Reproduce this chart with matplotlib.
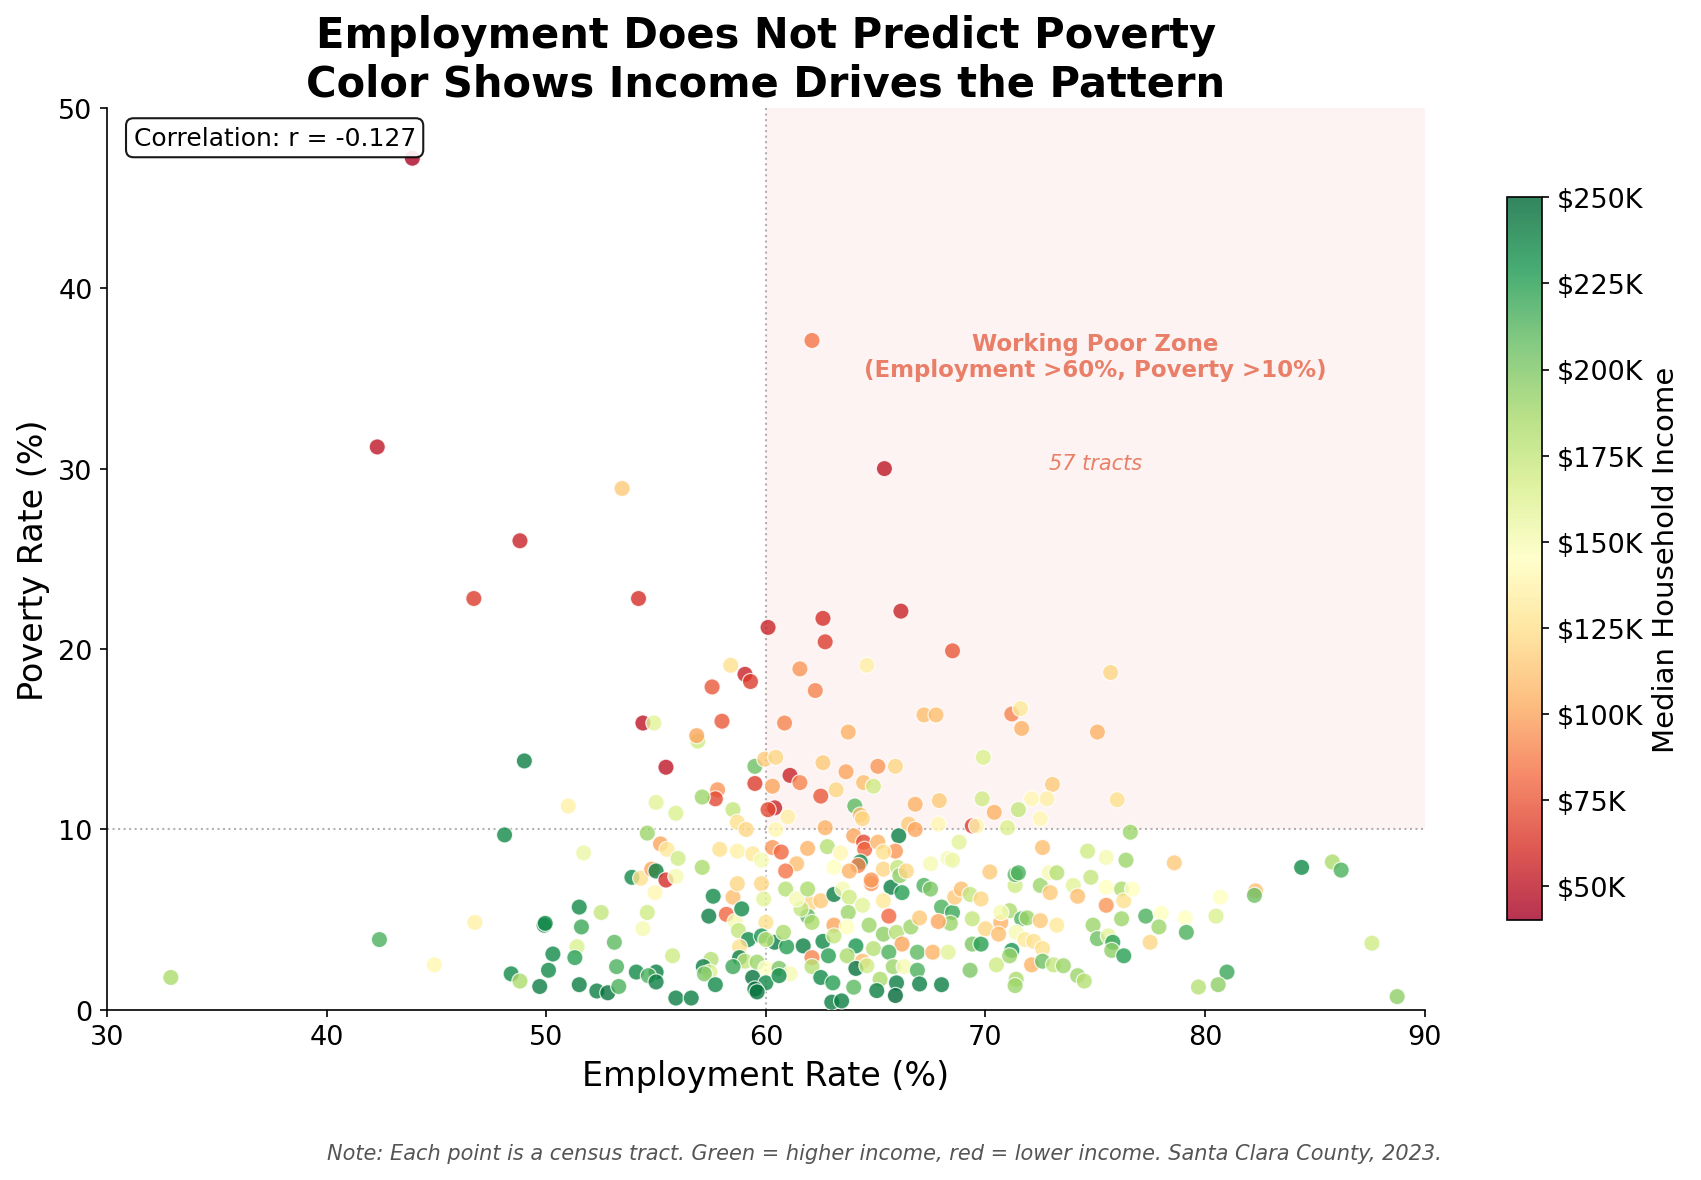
import numpy as np
import matplotlib
matplotlib.use("Agg")
from matplotlib import pyplot as plt
from matplotlib.ticker import FuncFormatter

# employment rate (%), poverty rate (%), median household income ($K) per tract
emp = [43.9, 42.3, 48.8, 46.7, 53.45, 54.2, 62.1, 65.4, 32.9, 44.9, 42.4, 48.4, 48.8, 85.8, 86.2,
       49.0, 55.45, 56.9, 57.8, 57.7, 57.1, 55.0, 55.9, 51.0, 48.1,
       58.5, 58.7, 54.6, 55.2, 55.5, 56.0, 57.9, 58.7, 57.1, 51.7,
       53.9, 54.3, 54.8, 55.0, 55.45, 55.9, 54.95, 57.6, 58.5, 58.7,
       51.5, 52.5, 51.6, 49.9, 49.95, 46.75, 54.6, 54.4, 57.4, 58.2, 58.6,
       58.9, 58.75, 59.8, 59.9, 60.0, 60.9, 59.2, 59.8, 60.4, 60.0,
       60.95, 58.8, 58.8, 59.05, 58.5, 59.6, 60.0, 60.6, 61.1, 59.4,
       60.0, 59.5, 59.6, 60.6, 53.1, 51.4, 50.3, 51.3, 53.2, 50.1,
       55.75, 54.1, 55.0, 54.65, 55.0, 57.5, 57.15, 57.45, 57.2, 57.7,
       51.5, 52.3, 52.8, 53.3, 55.9, 56.6, 49.7, 60.8, 61.7, 62.0,
       62.5, 61.9, 61.6, 62.1, 61.4, 62.1, 62.6, 62.85, 62.1, 62.5,
       63.05, 63.0, 63.1, 63.1,
       63.5, 63.8, 64.8, 65.7, 66.2, 67.2, 67.5, 64.4, 65.35, 63.75,
       65.6, 63.7, 63.1, 64.7, 65.35, 65.95, 66.6, 67.0, 66.2, 64.1,
       64.9, 65.6, 66.9, 67.6, 68.3, 63.7, 64.4, 64.1, 64.6, 65.8,
       66.3, 66.9, 64.0, 65.2, 65.95, 65.05, 65.9, 67.0, 68.0, 63.45,
       68.0, 68.5, 68.4, 67.85, 68.6, 68.9, 69.3, 69.8, 69.4, 69.4,
       69.8, 69.3, 70.0, 70.7, 70.6, 70.5, 71.2, 71.1, 71.1, 71.65,
       71.9, 71.4, 71.8, 72.2, 72.5, 73.25, 72.6, 72.1, 72.6, 73.1,
       73.55, 71.4, 71.35, 71.35, 72.5, 72.95, 74.0, 74.2, 75.5, 76.2,
       75.5, 76.3, 76.2, 74.9, 75.1, 75.6, 75.8, 75.75, 76.3, 74.2,
       74.5,
       76.7, 77.3, 78.0, 77.9, 77.5, 79.1, 79.15, 80.7, 80.5, 81.0,
       80.6, 79.7, 82.3, 82.25, 87.6, 88.75,
       73.05, 72.8, 72.1, 71.5, 72.5, 71.0, 76.0, 76.6, 72.6, 74.65,
       75.5, 76.4, 78.6, 84.4, 71.35, 71.5, 72.9, 73.25, 74.8,
       59.5, 59.95, 60.45, 62.6, 63.65, 65.1, 65.9, 69.9, 61.1, 61.55,
       59.5, 60.3, 63.2, 64.45, 64.9, 62.5, 60.4, 60.1, 61.0, 64.05,
       64.3, 64.4, 66.8, 67.9, 69.85, 70.4, 67.85, 66.5, 66.8, 69.4,
       69.6, 62.7, 60.45, 59.1, 66.05, 64.0, 64.45, 64.5, 65.1, 65.9,
       65.35, 68.8, 62.8, 63.4, 61.9, 60.3, 60.7, 61.4, 60.9, 59.4,
       59.8, 63.1, 64.3, 64.2, 63.8, 65.35, 66.0, 66.1, 66.4, 64.8,
       67.5, 68.3, 68.5, 70.2, 61.9, 70.7,
       60.1, 58.4, 59.05, 59.3, 57.55, 54.4, 54.9, 58.0, 56.85, 60.85,
       61.55, 62.6, 66.15, 62.7, 68.5, 64.6, 62.25, 67.2, 67.75, 71.2,
       71.6, 71.65, 63.75, 75.7, 75.1]

pov = [47.2, 31.2, 26.0, 22.8, 28.9, 22.8, 37.1, 30.0, 1.8, 2.5, 3.9, 2.0, 1.6, 8.2, 7.75,
       13.8, 13.45, 14.9, 12.2, 11.7, 11.8, 11.5, 10.9, 11.3, 9.7,
       11.1, 10.4, 9.8, 9.2, 8.9, 8.4, 8.9, 8.8, 7.9, 8.7,
       7.35, 7.3, 7.8, 7.7, 7.2, 7.4, 6.5, 6.3, 6.25, 7.0,
       5.7, 5.4, 4.6, 4.7, 4.8, 4.85, 5.4, 4.5, 5.2, 5.3, 4.9,
       5.6, 4.4, 7.0, 6.15, 4.85, 6.7, 3.9, 4.1, 3.75, 3.9,
       3.5, 3.5, 2.9, 2.7, 2.4, 2.65, 2.3, 2.3, 2.0, 1.8,
       1.5, 1.16, 1.0, 1.9, 3.75, 3.5, 3.1, 2.9, 2.4, 2.2,
       3.0, 2.1, 2.1, 1.9, 1.55, 2.8, 2.4, 2.1, 2.0, 1.4,
       1.4, 1.05, 0.95, 1.3, 0.66, 0.66, 1.3, 4.3, 3.55, 5.9,
       6.05, 5.2, 5.6, 4.85, 6.15, 2.9, 3.8, 3.0, 2.4, 1.8,
       1.5, 0.43, 6.4, 4.7,
       6.7, 6.25, 7.0, 6.8, 6.5, 6.9, 6.7, 5.8, 6.05, 5.4,
       5.2, 4.6, 4.1, 4.7, 4.2, 4.3, 4.6, 5.1, 3.65, 3.55,
       3.4, 3.2, 3.2, 3.2, 3.2, 3.0, 2.7, 2.3, 2.45, 2.4,
       2.4, 2.2, 1.26, 1.7, 1.5, 1.07, 0.8, 1.44, 1.4, 0.5,
       5.7, 5.4, 4.8, 4.9, 6.25, 6.7, 6.4, 6.15, 5.05, 3.65,
       3.65, 2.2, 4.5, 4.85, 4.2, 2.5, 3.3, 3.0, 5.5, 5.05,
       5.1, 4.3, 3.9, 3.8, 4.95, 4.7, 3.4, 2.5, 2.7, 2.5,
       2.45, 1.7, 1.35, 6.9, 6.9, 6.5, 6.9, 6.3, 6.8, 6.7,
       5.8, 6.05, 5.05, 4.7, 3.95, 4.1, 3.75, 3.3, 3.0, 1.9,
       1.6,
       6.7, 5.2, 5.35, 4.6, 3.75, 5.1, 4.3, 6.25, 5.2, 2.1,
       1.4, 1.27, 6.6, 6.35, 3.7, 0.74,
       12.5, 11.7, 11.7, 11.1, 10.6, 10.1, 11.65, 9.85, 9.0, 8.8,
       8.45, 8.3, 8.15, 7.9, 7.5, 7.6, 7.6, 7.6, 7.35,
       13.5, 13.9, 14.0, 13.7, 13.2, 13.5, 13.5, 14.0, 13.0, 12.6,
       12.55, 12.4, 12.2, 12.6, 12.4, 11.85, 11.2, 11.1, 10.7, 11.3,
       10.8, 10.6, 11.4, 11.6, 11.7, 10.95, 10.3, 10.3, 10.0, 10.2,
       10.2, 10.1, 10.0, 10.0, 9.65, 9.65, 9.3, 8.9, 9.3, 8.8,
       8.75, 9.3, 9.05, 8.7, 8.95, 9.0, 8.75, 8.1, 7.7, 8.65,
       8.3, 7.9, 8.2, 8.0, 7.7, 7.8, 7.9, 7.45, 7.7, 7.2,
       8.1, 8.4, 8.3, 7.65, 6.7, 5.4,
       21.2, 19.1, 18.6, 18.2, 17.9, 15.9, 15.9, 16.0, 15.2, 15.9,
       18.9, 21.7, 22.1, 20.4, 19.9, 19.1, 17.7, 16.35, 16.35, 16.4,
       16.7, 15.6, 15.4, 18.7, 15.4]

income_k = [42, 50, 55, 65, 115, 60, 85, 50, 185, 140, 215, 235, 185, 185, 215,
            240, 50, 170, 95, 70, 190, 160, 165, 135, 235,
            175, 125, 190, 100, 130, 170, 125, 135, 185, 155,
            235, 125, 100, 240, 60, 150, 140, 235, 110, 120,
            235, 175, 220, 240, 235, 135, 170, 150, 240, 80, 150,
            235, 175, 120, 160, 125, 180, 235, 230, 240, 180,
            225, 125, 240, 175, 220, 190, 145, 200, 150, 245,
            235, 245, 245, 235, 210, 165, 235, 225, 215, 235,
            170, 235, 240, 215, 240, 180, 240, 165, 200, 235,
            240, 240, 245, 215, 240, 240, 240, 185, 240, 120,
            115, 210, 175, 185, 150, 90, 235, 225, 180, 235,
            225, 240, 240, 100,
            150, 170, 95, 240, 225, 215, 200, 160, 130, 190,
            80, 145, 175, 190, 195, 180, 190, 115, 100, 230,
            180, 215, 210, 105, 160, 185, 110, 245, 170, 190,
            150, 215, 210, 185, 240, 240, 250, 240, 240, 240,
            215, 220, 190, 100, 115, 110, 175, 120, 175, 200,
            225, 200, 120, 105, 110, 170, 230, 190, 185, 215,
            190, 150, 130, 125, 115, 130, 125, 105, 205, 175,
            190, 185, 190, 170, 190, 115, 160, 110, 145, 185,
            95, 125, 190, 190, 205, 160, 225, 195, 225, 190,
            180,
            145, 215, 145, 190, 120, 145, 215, 145, 165, 220,
            195, 180, 110, 205, 170, 195,
            115, 135, 140, 175, 140, 165, 125, 190, 110, 170,
            150, 190, 115, 235, 210, 215, 150, 180, 175,
            205, 115, 120, 115, 100, 95, 120, 165, 55, 90,
            65, 100, 120, 110, 170, 75, 55, 70, 135, 210,
            110, 120, 105, 115, 170, 105, 140, 115, 100, 65,
            140, 105, 140, 120, 240, 100, 70, 80, 105, 95,
            125, 160, 180, 140, 105, 95, 80, 110, 85, 130,
            150, 145, 235, 90, 105, 120, 175, 195, 120, 95,
            150, 150, 155, 115, 185, 150,
            55, 125, 55, 65, 75, 50, 160, 75, 100, 90,
            95, 60, 55, 65, 75, 135, 90, 110, 110, 90,
            130, 105, 105, 120, 105]

cbar_ticks = [50000, 75000, 100000, 125000, 150000, 175000, 200000, 225000, 250000]

x = np.array(emp)
y = np.array(pov)
inc = np.array(income_k) * 1000

fig = plt.figure(figsize=(11.34, 7.873), dpi=150)
ax = fig.add_axes([0.063, 0.144, 0.7745, 0.764])

# working poor zone
ax.fill_between([60, 90], 10, 50, color="#e74c3c", alpha=0.065, linewidth=0)
ax.axhline(10, color="gray", linestyle=":", linewidth=1, alpha=0.6)
ax.axvline(60, color="gray", linestyle=":", linewidth=1, alpha=0.6)

sc = ax.scatter(x, y, c=inc, cmap="RdYlGn", vmin=40000, vmax=250000, s=60,
                alpha=0.8, edgecolors="white", linewidths=0.6, zorder=3)

ax.set_xlim(30, 90)
ax.set_ylim(0, 50)
ax.spines["top"].set_visible(False)
ax.spines["right"].set_visible(False)
ax.tick_params(labelsize=13)
ax.set_xlabel("Employment Rate (%)", fontsize=16)
ax.set_ylabel("Poverty Rate (%)", fontsize=16)
ax.set_title("Employment Does Not Predict Poverty\nColor Shows Income Drives the Pattern",
             fontsize=20, fontweight="bold")

ax.text(75, 36.2, "Working Poor Zone\n(Employment >60%, Poverty >10%)", ha="center", va="center",
        fontsize=11, fontweight="bold", color="#e8735a", alpha=0.9)
ax.text(75, 30.3, "57 tracts", ha="center", va="center", fontsize=10, style="italic",
        color="#e8735a", alpha=0.9)
ax.text(0.02, 0.98, "Correlation: r = -0.127", transform=ax.transAxes, ha="left", va="top",
        fontsize=12, bbox=dict(boxstyle="round,pad=0.3", facecolor="white", edgecolor="black", alpha=0.9))

cax = fig.add_axes([0.886, 0.22, 0.0206, 0.612])
cb = fig.colorbar(sc, cax=cax)
cb.set_ticks(cbar_ticks)
cb.ax.yaxis.set_major_formatter(FuncFormatter(lambda v, p: "$%dK" % round(v / 1000)))
cb.ax.tick_params(labelsize=13)
cb.set_label("Median Household Income", fontsize=14)
cb.outline.set_linewidth(0.8)

fig.text(0.52, 0.018, "Note: Each point is a census tract. Green = higher income, red = lower income. Santa Clara County, 2023.",
         ha="center", fontsize=10, style="italic", color="#555555")

fig.savefig("out.png")
